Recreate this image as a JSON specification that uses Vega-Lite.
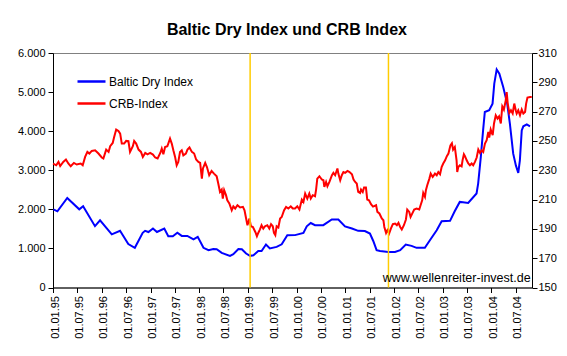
{
  "$schema": "https://vega.github.io/schema/vega-lite/v6.json",
  "width": 479,
  "height": 234.5,
  "padding": {"left": 17, "top": 22, "right": 10, "bottom": 5},
  "background": "white",
  "title": {"text": "Baltic Dry Index und CRB Index", "font": "Liberation Sans", "fontSize": 16, "fontWeight": "bold", "color": "black", "anchor": "middle", "frame": "bounds", "offset": 9},
  "config": {
    "view": {"stroke": "#808080", "strokeWidth": 1},
    "axis": {"domainColor": "black", "tickColor": "black", "labelColor": "black", "labelFont": "Liberation Sans", "labelFontSize": 11, "tickSize": 5, "grid": false, "domainWidth": 1, "tickWidth": 1, "title": null, "labelOverlap": false}
  },
  "datasets": {
    "bdi": [
      {"date": "1994-12-18", "bdi": 2000}, {"date": "1995-01-17", "bdi": 1950}, {"date": "1995-04-01", "bdi": 2290}, {"date": "1995-06-30", "bdi": 2000},
      {"date": "1995-07-29", "bdi": 2080}, {"date": "1995-10-26", "bdi": 1570}, {"date": "1995-12-03", "bdi": 1720}, {"date": "1996-02-29", "bdi": 1360},
      {"date": "1996-05-01", "bdi": 1450}, {"date": "1996-07-02", "bdi": 1110}, {"date": "1996-08-20", "bdi": 1015}, {"date": "1996-10-18", "bdi": 1400},
      {"date": "1996-11-05", "bdi": 1450}, {"date": "1996-11-30", "bdi": 1420}, {"date": "1997-01-03", "bdi": 1510}, {"date": "1997-02-02", "bdi": 1420},
      {"date": "1997-03-29", "bdi": 1510}, {"date": "1997-04-28", "bdi": 1310}, {"date": "1997-06-01", "bdi": 1310}, {"date": "1997-07-05", "bdi": 1400},
      {"date": "1997-08-07", "bdi": 1320}, {"date": "1997-09-18", "bdi": 1320}, {"date": "1997-11-03", "bdi": 1230}, {"date": "1997-12-05", "bdi": 1295},
      {"date": "1998-01-17", "bdi": 1015}, {"date": "1998-02-24", "bdi": 955}, {"date": "1998-04-01", "bdi": 985}, {"date": "1998-04-26", "bdi": 980},
      {"date": "1998-06-03", "bdi": 885}, {"date": "1998-08-04", "bdi": 810}, {"date": "1998-08-29", "bdi": 850}, {"date": "1998-10-06", "bdi": 985},
      {"date": "1998-11-01", "bdi": 980}, {"date": "1998-12-03", "bdi": 870}, {"date": "1999-01-02", "bdi": 810}, {"date": "1999-01-27", "bdi": 825},
      {"date": "1999-03-04", "bdi": 935}, {"date": "1999-03-29", "bdi": 935}, {"date": "1999-05-01", "bdi": 1100}, {"date": "1999-05-30", "bdi": 1000},
      {"date": "1999-07-20", "bdi": 1040}, {"date": "1999-08-27", "bdi": 1105}, {"date": "1999-10-08", "bdi": 1335}, {"date": "1999-12-05", "bdi": 1340},
      {"date": "2000-02-06", "bdi": 1395}, {"date": "2000-03-02", "bdi": 1565}, {"date": "2000-04-01", "bdi": 1650}, {"date": "2000-05-03", "bdi": 1595},
      {"date": "2000-07-04", "bdi": 1595}, {"date": "2000-09-06", "bdi": 1740}, {"date": "2000-10-25", "bdi": 1740}, {"date": "2000-12-14", "bdi": 1565},
      {"date": "2001-02-04", "bdi": 1510}, {"date": "2001-03-23", "bdi": 1450}, {"date": "2001-05-12", "bdi": 1445}, {"date": "2001-06-19", "bdi": 1380},
      {"date": "2001-07-14", "bdi": 1190}, {"date": "2001-08-08", "bdi": 955}, {"date": "2001-09-03", "bdi": 935}, {"date": "2001-11-04", "bdi": 910},
      {"date": "2001-12-24", "bdi": 910}, {"date": "2002-02-01", "bdi": 955}, {"date": "2002-03-15", "bdi": 1100}, {"date": "2002-04-27", "bdi": 1065},
      {"date": "2002-06-04", "bdi": 1015}, {"date": "2002-08-05", "bdi": 1015}, {"date": "2002-09-12", "bdi": 1210}, {"date": "2002-11-02", "bdi": 1465},
      {"date": "2002-12-09", "bdi": 1695}, {"date": "2003-02-10", "bdi": 1705}, {"date": "2003-03-17", "bdi": 1950}, {"date": "2003-04-24", "bdi": 2190},
      {"date": "2003-05-18", "bdi": 2180}, {"date": "2003-06-26", "bdi": 2165}, {"date": "2003-08-28", "bdi": 2405}, {"date": "2003-09-09", "bdi": 2660},
      {"date": "2003-09-29", "bdi": 3340}, {"date": "2003-10-16", "bdi": 4020}, {"date": "2003-10-29", "bdi": 4490}, {"date": "2003-12-01", "bdi": 4535},
      {"date": "2003-12-26", "bdi": 4705}, {"date": "2004-01-08", "bdi": 5215}, {"date": "2004-01-26", "bdi": 5580}, {"date": "2004-02-15", "bdi": 5470},
      {"date": "2004-03-15", "bdi": 5130}, {"date": "2004-04-14", "bdi": 4705}, {"date": "2004-05-04", "bdi": 4195}, {"date": "2004-05-29", "bdi": 3425},
      {"date": "2004-06-18", "bdi": 3125}, {"date": "2004-07-06", "bdi": 2930}, {"date": "2004-07-18", "bdi": 3255}, {"date": "2004-08-01", "bdi": 4020},
      {"date": "2004-08-13", "bdi": 4125}, {"date": "2004-09-08", "bdi": 4175}, {"date": "2004-10-02", "bdi": 4125}
    ],
    "crb": [
      {"date": "1994-12-16", "crb": 234.5}, {"date": "1995-01-08", "crb": 233.4}, {"date": "1995-01-25", "crb": 235.7}, {"date": "1995-02-07", "crb": 232.9},
      {"date": "1995-03-02", "crb": 235.7}, {"date": "1995-03-22", "crb": 237.3}, {"date": "1995-04-09", "crb": 234.6}, {"date": "1995-04-27", "crb": 232.7},
      {"date": "1995-05-21", "crb": 235.0}, {"date": "1995-06-11", "crb": 233.9}, {"date": "1995-07-11", "crb": 234.6}, {"date": "1995-07-26", "crb": 233.4},
      {"date": "1995-08-13", "crb": 239.1}, {"date": "1995-08-30", "crb": 242.5}, {"date": "1995-09-14", "crb": 241.4}, {"date": "1995-10-02", "crb": 243.2},
      {"date": "1995-10-27", "crb": 243.6}, {"date": "1995-11-21", "crb": 241.4}, {"date": "1995-12-16", "crb": 238.7}, {"date": "1995-12-28", "crb": 238.0},
      {"date": "1996-01-18", "crb": 244.1}, {"date": "1996-02-05", "crb": 242.5}, {"date": "1996-02-17", "crb": 246.4}, {"date": "1996-03-07", "crb": 248.6},
      {"date": "1996-03-17", "crb": 252.3}, {"date": "1996-04-02", "crb": 257.8}, {"date": "1996-04-19", "crb": 256.8}, {"date": "1996-05-02", "crb": 255.0},
      {"date": "1996-05-14", "crb": 248.2}, {"date": "1996-06-01", "crb": 248.2}, {"date": "1996-06-16", "crb": 250.0}, {"date": "1996-07-03", "crb": 249.8},
      {"date": "1996-07-15", "crb": 242.5}, {"date": "1996-08-05", "crb": 246.4}, {"date": "1996-08-15", "crb": 250.0}, {"date": "1996-08-30", "crb": 248.2},
      {"date": "1996-09-17", "crb": 244.1}, {"date": "1996-10-05", "crb": 242.5}, {"date": "1996-10-19", "crb": 239.1}, {"date": "1996-11-06", "crb": 241.8},
      {"date": "1996-11-23", "crb": 240.9}, {"date": "1996-12-13", "crb": 241.8}, {"date": "1997-01-03", "crb": 240.7}, {"date": "1997-01-20", "crb": 238.7},
      {"date": "1997-02-07", "crb": 238.0}, {"date": "1997-02-27", "crb": 241.8}, {"date": "1997-03-10", "crb": 244.8}, {"date": "1997-03-22", "crb": 240.9},
      {"date": "1997-04-04", "crb": 245.9}, {"date": "1997-04-21", "crb": 246.4}, {"date": "1997-05-11", "crb": 251.6}, {"date": "1997-05-24", "crb": 248.2},
      {"date": "1997-06-05", "crb": 243.6}, {"date": "1997-06-18", "crb": 239.1}, {"date": "1997-06-30", "crb": 233.4}, {"date": "1997-07-12", "crb": 235.7},
      {"date": "1997-07-25", "crb": 242.5}, {"date": "1997-08-07", "crb": 243.6}, {"date": "1997-08-19", "crb": 240.2}, {"date": "1997-09-07", "crb": 241.4},
      {"date": "1997-09-19", "crb": 244.1}, {"date": "1997-10-04", "crb": 245.5}, {"date": "1997-10-22", "crb": 242.5}, {"date": "1997-11-08", "crb": 241.4},
      {"date": "1997-11-23", "crb": 237.3}, {"date": "1997-12-10", "crb": 235.7}, {"date": "1997-12-23", "crb": 235.0}, {"date": "1998-01-05", "crb": 224.3},
      {"date": "1998-01-13", "crb": 231.2}, {"date": "1998-01-30", "crb": 235.0}, {"date": "1998-02-12", "crb": 232.2}, {"date": "1998-03-01", "crb": 226.6},
      {"date": "1998-03-19", "crb": 229.5}, {"date": "1998-04-06", "crb": 227.7}, {"date": "1998-04-26", "crb": 225.9}, {"date": "1998-05-08", "crb": 220.9},
      {"date": "1998-05-21", "crb": 215.2}, {"date": "1998-06-03", "crb": 216.8}, {"date": "1998-06-11", "crb": 210.7}, {"date": "1998-06-21", "crb": 216.4},
      {"date": "1998-07-05", "crb": 213.0}, {"date": "1998-07-15", "crb": 209.5}, {"date": "1998-07-30", "crb": 207.3}, {"date": "1998-08-17", "crb": 202.7},
      {"date": "1998-08-29", "crb": 205.4}, {"date": "1998-09-12", "crb": 203.9}, {"date": "1998-09-29", "crb": 206.1}, {"date": "1998-10-19", "crb": 204.6},
      {"date": "1998-11-09", "crb": 205.0}, {"date": "1998-11-21", "crb": 202.7}, {"date": "1998-12-03", "crb": 197.1}, {"date": "1998-12-13", "crb": 192.5},
      {"date": "1998-12-28", "crb": 197.1}, {"date": "1999-01-08", "crb": 191.8}, {"date": "1999-01-23", "crb": 191.3}, {"date": "1999-02-10", "crb": 187.9},
      {"date": "1999-02-22", "crb": 185.0}, {"date": "1999-03-04", "crb": 187.2}, {"date": "1999-03-17", "crb": 189.6}, {"date": "1999-03-29", "crb": 192.5},
      {"date": "1999-04-11", "crb": 190.2}, {"date": "1999-04-24", "crb": 191.8}, {"date": "1999-05-11", "crb": 192.5}, {"date": "1999-05-26", "crb": 190.2},
      {"date": "1999-06-08", "crb": 193.2}, {"date": "1999-06-21", "crb": 191.8}, {"date": "1999-06-30", "crb": 187.2}, {"date": "1999-07-10", "crb": 185.7},
      {"date": "1999-07-20", "crb": 191.8}, {"date": "1999-08-02", "crb": 190.9}, {"date": "1999-08-15", "crb": 197.1}, {"date": "1999-08-27", "crb": 198.1},
      {"date": "1999-09-14", "crb": 202.7}, {"date": "1999-09-29", "crb": 205.0}, {"date": "1999-10-16", "crb": 203.9}, {"date": "1999-11-03", "crb": 205.4},
      {"date": "1999-11-18", "crb": 203.9}, {"date": "1999-12-05", "crb": 203.9}, {"date": "1999-12-22", "crb": 205.4}, {"date": "2000-01-07", "crb": 203.2},
      {"date": "2000-01-25", "crb": 210.0}, {"date": "2000-02-06", "crb": 208.4}, {"date": "2000-02-19", "crb": 214.1}, {"date": "2000-03-06", "crb": 210.7},
      {"date": "2000-03-21", "crb": 214.1}, {"date": "2000-04-01", "crb": 210.7}, {"date": "2000-04-16", "crb": 213.0}, {"date": "2000-05-03", "crb": 212.3},
      {"date": "2000-05-11", "crb": 216.8}, {"date": "2000-05-20", "crb": 224.3}, {"date": "2000-06-05", "crb": 225.9}, {"date": "2000-06-23", "crb": 223.7},
      {"date": "2000-07-05", "crb": 223.2}, {"date": "2000-07-12", "crb": 218.6}, {"date": "2000-07-25", "crb": 222.0}, {"date": "2000-08-04", "crb": 219.1},
      {"date": "2000-08-19", "crb": 222.0}, {"date": "2000-09-07", "crb": 226.6}, {"date": "2000-09-18", "crb": 228.2}, {"date": "2000-10-01", "crb": 226.6},
      {"date": "2000-10-18", "crb": 231.2}, {"date": "2000-10-25", "crb": 227.7}, {"date": "2000-11-08", "crb": 223.2}, {"date": "2000-11-20", "crb": 226.6},
      {"date": "2000-12-02", "crb": 228.8}, {"date": "2000-12-15", "crb": 228.2}, {"date": "2001-01-02", "crb": 229.5}, {"date": "2001-01-17", "crb": 228.8},
      {"date": "2001-02-04", "crb": 227.3}, {"date": "2001-02-16", "crb": 223.7}, {"date": "2001-02-28", "crb": 222.0}, {"date": "2001-03-12", "crb": 220.9},
      {"date": "2001-03-23", "crb": 215.2}, {"date": "2001-04-06", "crb": 214.5}, {"date": "2001-04-13", "crb": 216.8}, {"date": "2001-04-26", "crb": 215.2},
      {"date": "2001-05-06", "crb": 218.2}, {"date": "2001-05-20", "crb": 218.2}, {"date": "2001-05-30", "crb": 210.0}, {"date": "2001-06-12", "crb": 209.5},
      {"date": "2001-06-27", "crb": 206.8}, {"date": "2001-07-12", "crb": 205.2}, {"date": "2001-08-04", "crb": 206.1}, {"date": "2001-08-14", "crb": 201.6},
      {"date": "2001-08-29", "crb": 200.5}, {"date": "2001-09-16", "crb": 197.1}, {"date": "2001-09-28", "crb": 195.9}, {"date": "2001-10-05", "crb": 191.3},
      {"date": "2001-10-18", "crb": 187.2}, {"date": "2001-10-28", "crb": 189.1}, {"date": "2001-11-10", "crb": 186.8}, {"date": "2001-11-23", "crb": 190.2},
      {"date": "2001-12-08", "crb": 193.2}, {"date": "2001-12-25", "crb": 193.6}, {"date": "2002-01-07", "crb": 192.5}, {"date": "2002-01-19", "crb": 194.1},
      {"date": "2002-02-01", "crb": 191.3}, {"date": "2002-02-13", "crb": 189.6}, {"date": "2002-03-01", "crb": 192.5}, {"date": "2002-03-16", "crb": 196.4},
      {"date": "2002-03-26", "crb": 203.2}, {"date": "2002-04-10", "crb": 201.6}, {"date": "2002-04-20", "crb": 198.1}, {"date": "2002-05-05", "crb": 200.9},
      {"date": "2002-05-17", "crb": 203.2}, {"date": "2002-06-04", "crb": 203.9}, {"date": "2002-06-24", "crb": 203.2}, {"date": "2002-07-04", "crb": 206.1},
      {"date": "2002-07-16", "crb": 209.5}, {"date": "2002-07-24", "crb": 214.5}, {"date": "2002-08-06", "crb": 211.8}, {"date": "2002-08-13", "crb": 216.4},
      {"date": "2002-08-23", "crb": 219.8}, {"date": "2002-09-08", "crb": 224.3}, {"date": "2002-09-18", "crb": 227.7}, {"date": "2002-10-03", "crb": 225.4},
      {"date": "2002-10-20", "crb": 227.7}, {"date": "2002-11-02", "crb": 226.6}, {"date": "2002-11-14", "crb": 228.8}, {"date": "2002-11-27", "crb": 227.3},
      {"date": "2002-12-09", "crb": 232.2}, {"date": "2002-12-21", "crb": 234.6}, {"date": "2003-01-04", "crb": 236.8}, {"date": "2003-01-17", "crb": 239.6},
      {"date": "2003-01-29", "crb": 241.4}, {"date": "2003-02-13", "crb": 247.0}, {"date": "2003-02-24", "crb": 248.4}, {"date": "2003-03-05", "crb": 244.1},
      {"date": "2003-03-18", "crb": 245.9}, {"date": "2003-03-31", "crb": 236.8}, {"date": "2003-04-05", "crb": 228.8}, {"date": "2003-04-13", "crb": 232.2},
      {"date": "2003-04-25", "crb": 233.4}, {"date": "2003-05-08", "crb": 232.7}, {"date": "2003-05-15", "crb": 236.8}, {"date": "2003-05-25", "crb": 240.9},
      {"date": "2003-06-02", "crb": 239.6}, {"date": "2003-06-15", "crb": 236.8}, {"date": "2003-06-27", "crb": 234.6}, {"date": "2003-07-09", "crb": 233.4},
      {"date": "2003-07-22", "crb": 234.6}, {"date": "2003-08-03", "crb": 233.4}, {"date": "2003-08-16", "crb": 235.7}, {"date": "2003-08-29", "crb": 238.7},
      {"date": "2003-09-10", "crb": 244.1}, {"date": "2003-09-23", "crb": 241.8}, {"date": "2003-10-05", "crb": 243.6}, {"date": "2003-10-17", "crb": 242.5},
      {"date": "2003-10-30", "crb": 248.2}, {"date": "2003-11-12", "crb": 250.5}, {"date": "2003-11-24", "crb": 256.1}, {"date": "2003-12-01", "crb": 252.3},
      {"date": "2003-12-12", "crb": 257.8}, {"date": "2003-12-27", "crb": 253.9}, {"date": "2004-01-06", "crb": 261.9}, {"date": "2004-01-19", "crb": 267.5},
      {"date": "2004-02-01", "crb": 265.3}, {"date": "2004-02-13", "crb": 266.8}, {"date": "2004-02-26", "crb": 261.9}, {"date": "2004-03-08", "crb": 273.6},
      {"date": "2004-03-20", "crb": 271.4}, {"date": "2004-04-03", "crb": 277.7}, {"date": "2004-04-10", "crb": 283.4}, {"date": "2004-04-18", "crb": 275.5},
      {"date": "2004-04-30", "crb": 269.1}, {"date": "2004-05-12", "crb": 270.9}, {"date": "2004-05-25", "crb": 268.7}, {"date": "2004-06-06", "crb": 275.5},
      {"date": "2004-06-17", "crb": 270.9}, {"date": "2004-06-24", "crb": 268.7}, {"date": "2004-07-06", "crb": 270.9}, {"date": "2004-07-19", "crb": 267.5},
      {"date": "2004-08-01", "crb": 271.4}, {"date": "2004-08-13", "crb": 268.7}, {"date": "2004-08-26", "crb": 269.8}, {"date": "2004-09-03", "crb": 275.5},
      {"date": "2004-09-13", "crb": 279.6}, {"date": "2004-10-03", "crb": 280.0}, {"date": "2004-10-15", "crb": 280.0}
    ],
    "markers": [{"date": "1999-01-02"}, {"date": "2001-11-05"}],
    "note": [{"date": "2004-10-07", "crb": 156.5, "label": "www.wellenreiter-invest.de"}]
  },
  "encoding": {
    "x": {
      "field": "date", "type": "temporal",
      "scale": {"type": "utc", "domain": ["1994-12-15", "2004-10-17"]},
      "axis": {"tickCount": {"interval": "month", "step": 6}, "format": "%d.%m.%y", "labelAngle": 270, "labelPadding": 3, "tickOffset": -2, "labelOffset": 2, "labelFlush": false, "labelBound": false}
    }
  },
  "layer": [
    {
      "data": {"name": "bdi"},
      "mark": {"type": "line", "strokeWidth": 2, "interpolate": "linear"},
      "encoding": {
        "y": {"field": "bdi", "type": "quantitative", "scale": {"domain": [0, 6000], "nice": false, "zero": false},
              "axis": {"orient": "left", "values": [0, 1000, 2000, 3000, 4000, 5000, 6000], "labelExpr": "replace(format(datum.value, ','), ',', '.')", "labelPadding": 3}},
        "color": {"datum": "Baltic Dry Index", "type": "nominal",
                  "scale": {"domain": ["Baltic Dry Index", "CRB-Index"], "range": ["#0000FF", "#FF0000"]},
                  "legend": {"orient": "none", "legendX": 23, "legendY": 13, "title": null, "symbolType": "stroke", "symbolSize": 784, "symbolStrokeWidth": 2.5, "labelFont": "Liberation Sans", "labelFontSize": 12, "labelColor": "black", "labelOffset": 2, "padding": 0, "rowPadding": -7}}
      }
    },
    {
      "encoding": {
        "y": {"field": "crb", "type": "quantitative", "scale": {"domain": [150, 310], "nice": false, "zero": false},
              "axis": {"orient": "right", "values": [150, 170, 190, 210, 230, 250, 270, 290, 310], "labelPadding": 1, "labelOverlap": false}}
      },
      "layer": [
        {
          "data": {"name": "crb"},
          "mark": {"type": "line", "strokeWidth": 2, "interpolate": "linear"},
          "encoding": {
            "color": {"datum": "CRB-Index", "type": "nominal"}
          }
        },
        {
          "data": {"name": "markers"},
          "mark": {"type": "rule", "color": "#FFCC00", "strokeWidth": 1.5},
          "encoding": {"y": null}
        },
        {
          "data": {"name": "note"},
          "mark": {"type": "text", "align": "right", "baseline": "middle", "font": "Liberation Sans", "fontSize": 12.5, "fill": "black"},
          "encoding": {
            "text": {"field": "label", "type": "nominal"}
          }
        }
      ]
    }
  ],
  "resolve": {"scale": {"y": "independent"}}
}
